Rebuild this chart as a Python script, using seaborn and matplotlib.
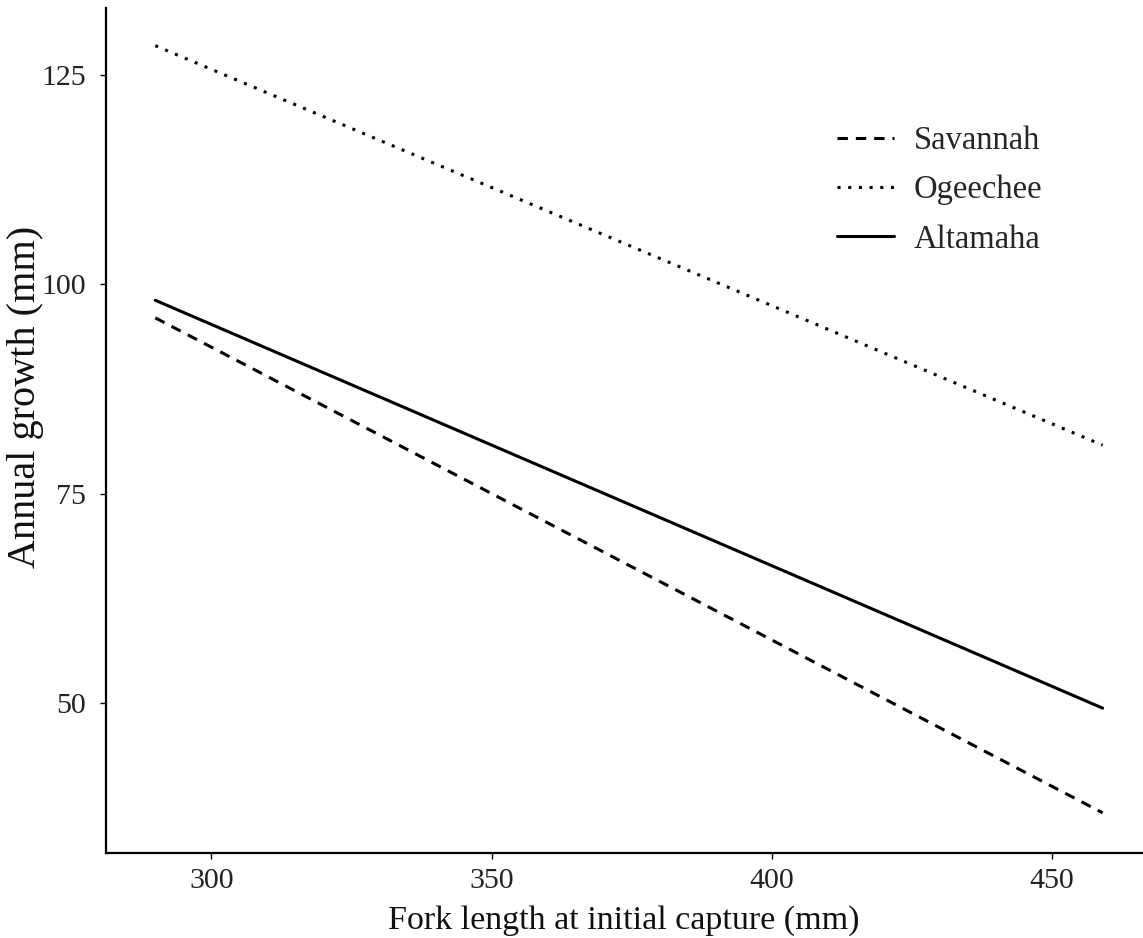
import matplotlib
matplotlib.use("Agg")
import matplotlib.pyplot as plt
import seaborn as sns
import pandas as pd

# Fitted growth lines: endpoints of fork length range per river
rivers = ["Savannah", "Ogeechee", "Altamaha"]
fork_length = [290, 459]
savannah_growth = [96.0, 36.9]
ogeechee_growth = [128.5, 80.8]
altamaha_growth = [98.1, 49.4]

x_ticks = [300, 350, 400, 450]
y_ticks = [50, 75, 100, 125]

df = pd.DataFrame({
    "Fork length": fork_length * 3,
    "Growth": savannah_growth + ogeechee_growth + altamaha_growth,
    "River": [r for r in rivers for _ in fork_length],
})

sns.set_theme(style="ticks")
plt.rcParams["font.family"] = ["Liberation Serif", "DejaVu Serif"]

fig = plt.figure(figsize=(11.43, 9.38), dpi=100)
ax = fig.add_axes([0.0927, 0.0906, 0.9063, 0.9009])

lw = 2.2
dash_styles = {
    "Savannah": (3.4, 2.6),
    "Ogeechee": (1.0, 2.5),
    "Altamaha": "",
}
sns.lineplot(
    data=df, x="Fork length", y="Growth", style="River",
    style_order=rivers, dashes=dash_styles, color="black",
    linewidth=lw, ax=ax, legend="full",
)

ax.set_xlim(281.2, 466.0)
ax.set_ylim(32.1, 133.0)
ax.set_xticks(x_ticks)
ax.set_yticks(y_ticks)
ax.tick_params(axis="both", labelsize=21.5, colors="black", length=4.5, width=1.0,
               labelcolor="#222222")
ax.tick_params(axis="y", pad=10)
ax.tick_params(axis="x", pad=6)
for spine in ["top", "right"]:
    ax.spines[spine].set_visible(False)
for spine in ["left", "bottom"]:
    ax.spines[spine].set_linewidth(1.6)
    ax.spines[spine].set_color("black")

ax.set_xlabel("Fork length at initial capture (mm)", fontsize=24.5, color="#111111", labelpad=8)
ax.set_ylabel("Annual growth (mm)", fontsize=29, color="#111111")
ax.yaxis.set_label_coords(-0.06, 0.54)

handles, labels = ax.get_legend_handles_labels()
ax.legend(
    handles=handles, labels=labels, frameon=False, fontsize=23.5,
    loc="upper left", bbox_to_anchor=(0.706, 0.861), borderaxespad=0, borderpad=0,
    handlelength=1.75, handletextpad=0.6, labelspacing=0.58,
)

fig.savefig("out.png", dpi=100, facecolor="white")
